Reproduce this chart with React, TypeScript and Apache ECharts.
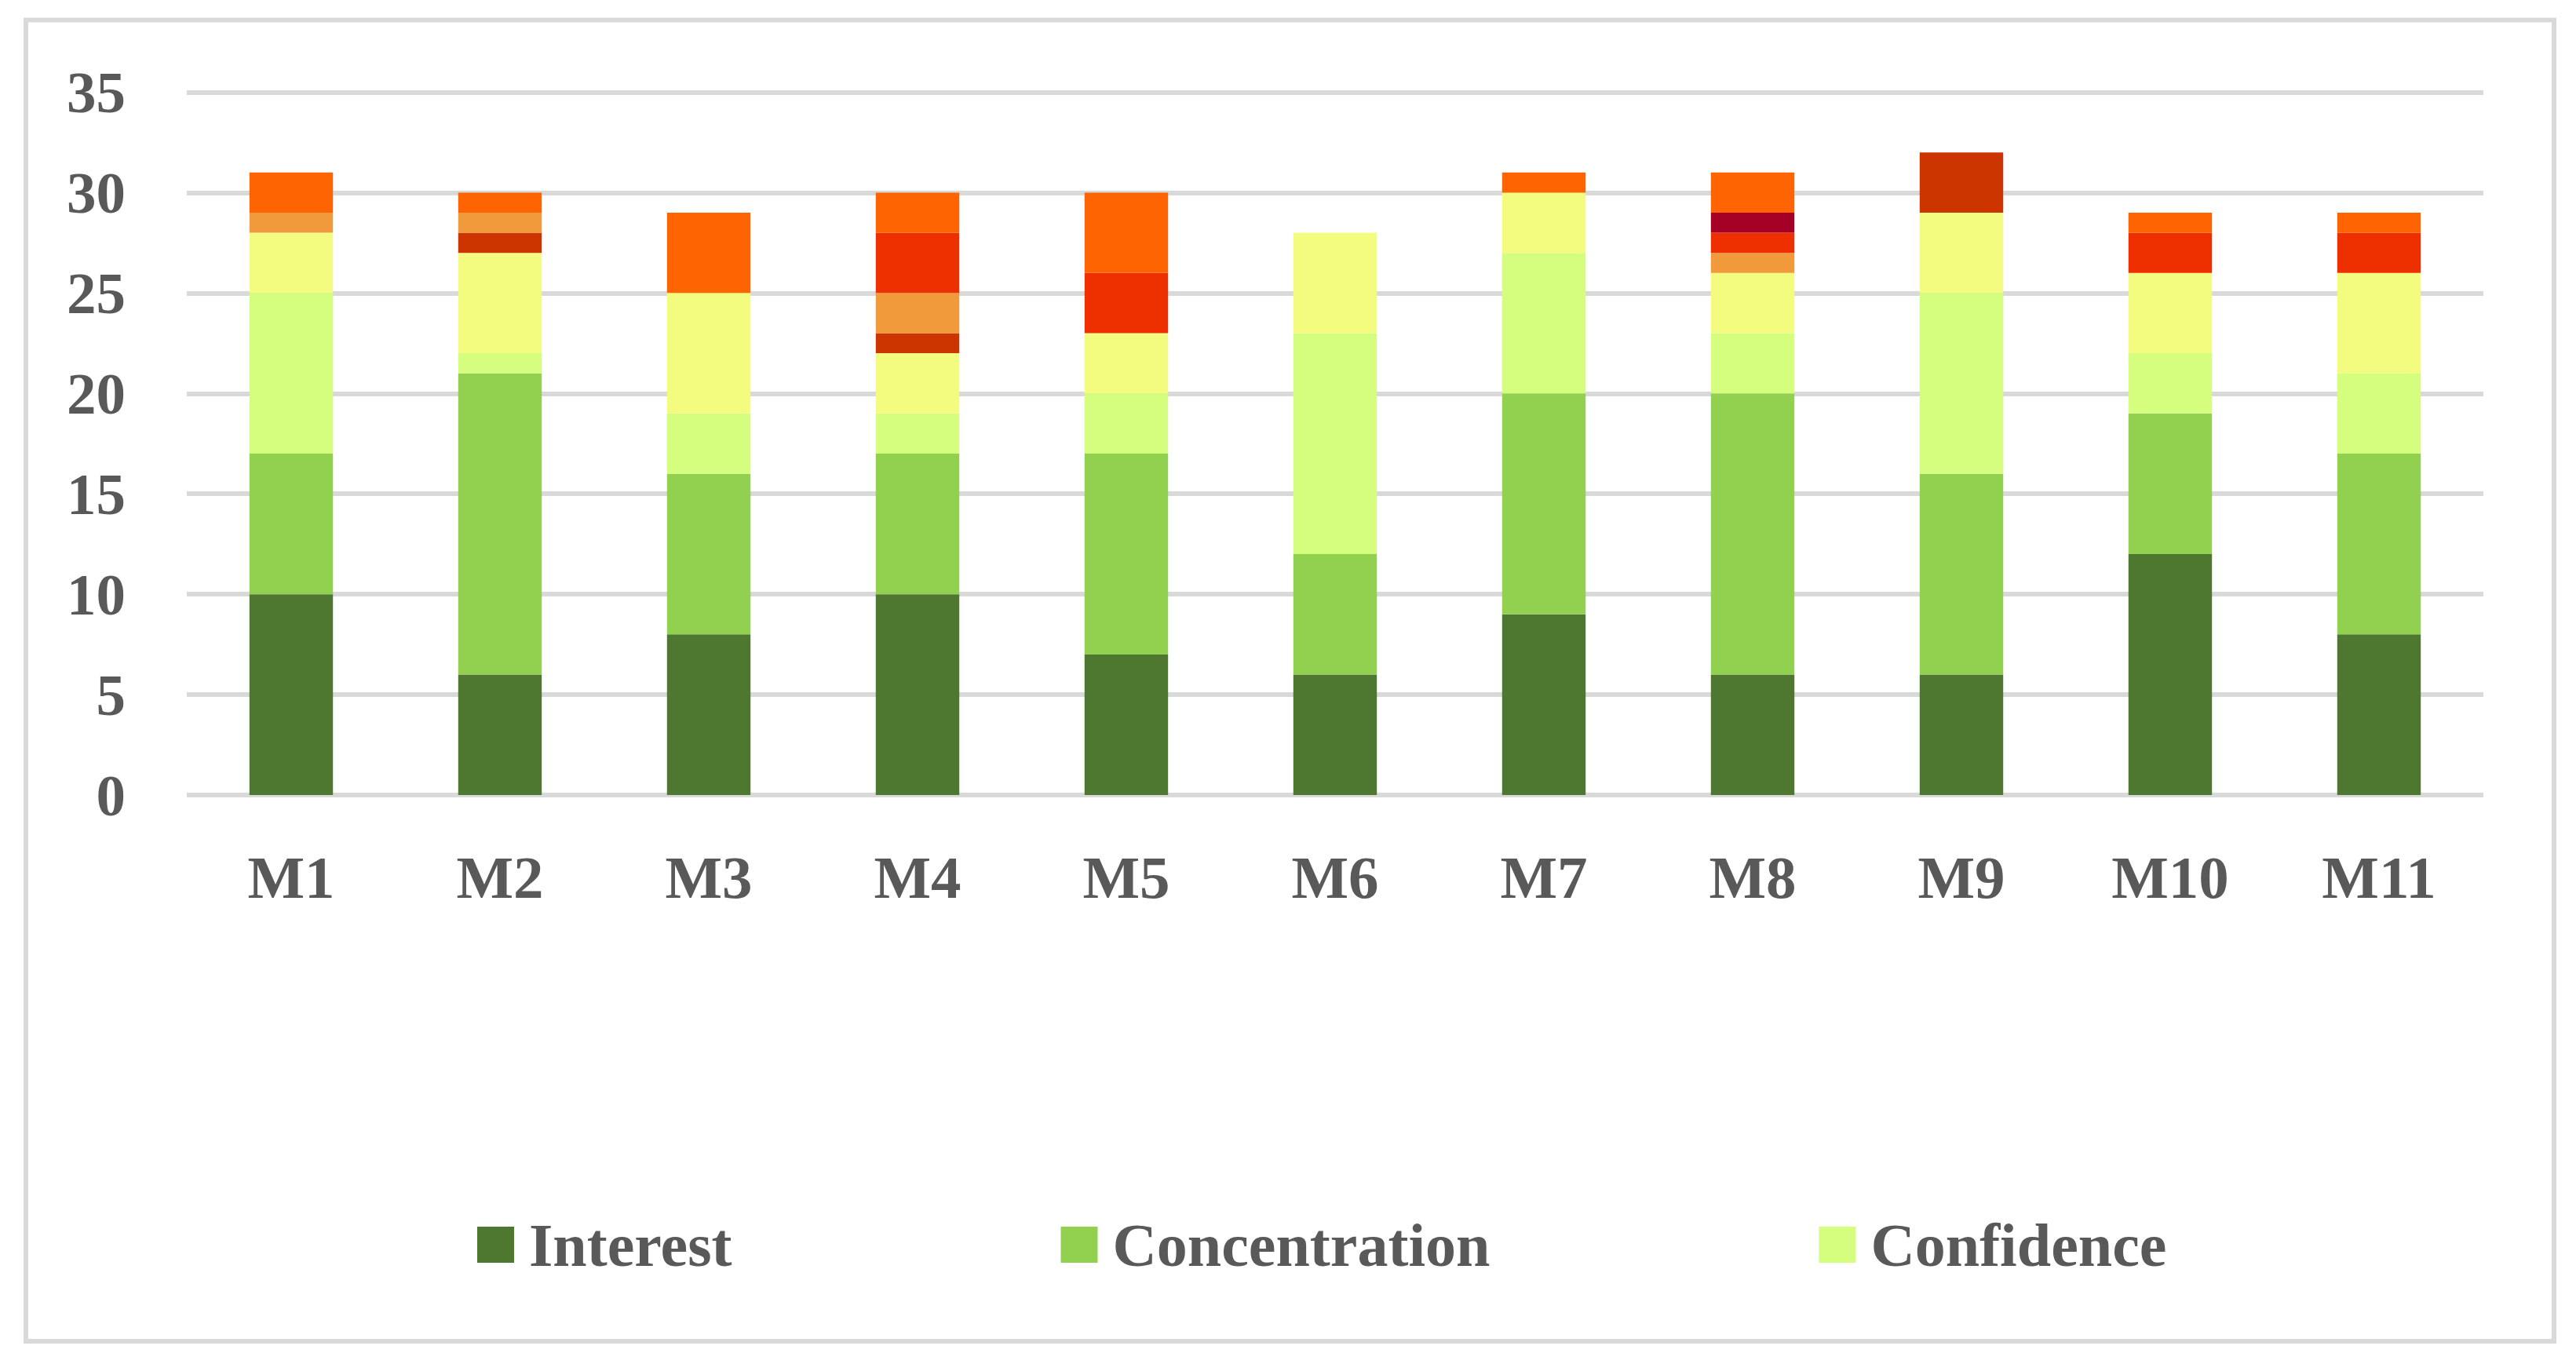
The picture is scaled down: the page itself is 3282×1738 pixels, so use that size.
import React, { useEffect, useRef } from "react";
import * as echarts from "echarts";

const categories = ["M1", "M2", "M3", "M4", "M5", "M6", "M7", "M8", "M9", "M10", "M11"];
const interest = [10, 6, 8, 10, 7, 6, 9, 6, 6, 12, 8];
const concentration = [7, 15, 8, 7, 10, 6, 11, 14, 10, 7, 9];
const confidence = [8, 1, 3, 2, 3, 11, 7, 3, 9, 3, 4];
const level4 = [3, 5, 6, 3, 3, 5, 3, 3, 4, 4, 5];
const level5 = [0, 1, 0, 1, 0, 0, 0, 0, 3, 0, 0];
const level6 = [1, 1, 0, 2, 0, 0, 0, 1, 0, 0, 0];
const level7 = [0, 0, 0, 3, 3, 0, 0, 1, 0, 2, 2];
const level8 = [0, 0, 0, 0, 0, 0, 0, 1, 0, 0, 0];
const level9 = [2, 1, 4, 2, 4, 0, 1, 2, 0, 1, 1];
const yTicks = { min: 0, max: 35, interval: 5 };

const seriesDefs = [
  { name: "Interest", data: interest, color: "#4E7830" },
  { name: "Concentration", data: concentration, color: "#92D050" },
  { name: "Confidence", data: confidence, color: "#D5FE7E" },
  { name: "Level 4", data: level4, color: "#F4FC80" },
  { name: "Level 5", data: level5, color: "#CD3500" },
  { name: "Level 6", data: level6, color: "#F09A3C" },
  { name: "Level 7", data: level7, color: "#EE3000" },
  { name: "Level 8", data: level8, color: "#A50026" },
  { name: "Level 9", data: level9, color: "#FF6402" },
];

const FONT = "'Liberation Serif', 'Times New Roman', serif";
const TXT = "#595959";

export default function App() {
  const ref = useRef<HTMLDivElement>(null);
  useEffect(() => {
    if (!ref.current) return;
    const chart = echarts.init(ref.current, null, { renderer: "svg" });
    chart.setOption({
      animation: false,
      backgroundColor: "#ffffff",
      graphic: [
        {
          type: "rect",
          shape: { x: 33, y: 25.5, width: 3221, height: 1683.5 },
          style: { fill: "none", stroke: "#D9D9D9", lineWidth: 6 },
          silent: true,
        },
      ],
      grid: { left: 238, right: 118, top: 117.5, bottom: 725, containLabel: false },
      legend: {
        data: ["Interest", "Concentration", "Confidence"],
        left: 608,
        top: 1544,
        icon: "rect",
        itemWidth: 47,
        itemHeight: 46,
        itemGap: 419,
        padding: 0,
        textStyle: {
          fontFamily: FONT,
          fontWeight: "bold",
          fontSize: 78,
          color: TXT,
          lineHeight: 84,
          padding: [0, 0, 0, 14],
        },
      },
      xAxis: {
        type: "category",
        data: categories,
        axisLine: { show: false },
        axisTick: { show: false },
        axisLabel: {
          fontFamily: FONT,
          fontWeight: "bold",
          fontSize: 77,
          color: TXT,
          margin: 66,
        },
      },
      yAxis: {
        type: "value",
        min: yTicks.min,
        max: yTicks.max,
        interval: yTicks.interval,
        axisLine: { show: false },
        axisTick: { show: false },
        splitLine: { lineStyle: { color: "#D9D9D9", width: 6 } },
        axisLabel: {
          fontFamily: FONT,
          fontWeight: "bold",
          fontSize: 75,
          color: TXT,
          margin: 78,
        },
      },
      series: seriesDefs.map((s) => ({
        name: s.name,
        type: "bar",
        stack: "total",
        barWidth: "40%",
        data: s.data,
        itemStyle: { color: s.color },
        emphasis: { disabled: true },
      })),
    });
    return () => chart.dispose();
  }, []);
  return (
    <div
      ref={ref}
      style={{ position: "fixed", left: 0, top: 0, width: 3282, height: 1738 }}
    />
  );
}
